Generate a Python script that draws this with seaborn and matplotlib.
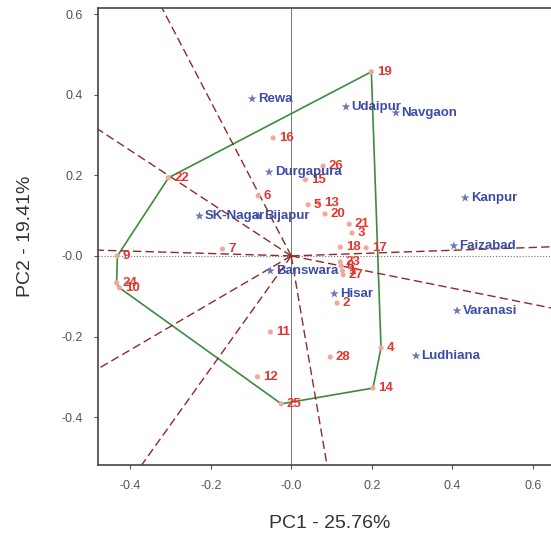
import numpy as np
import pandas as pd
import seaborn as sns
import matplotlib.pyplot as plt

# genotype scores (PC1, PC2)
gen_labels = ['1', '2', '3', '4', '5', '6', '7', '8', '9', '10', '11', '12', '13', '14',
              '15', '16', '17', '18', '19', '20', '21', '22', '23', '24', '25', '26', '27', '28']
gen_pc1 = [0.127, 0.114, 0.151, 0.223, 0.042, -0.082, -0.171, 0.124, -0.432, -0.427, -0.052, -0.084, 0.067, 0.203,
           0.035, -0.045, 0.186, 0.122, 0.199, 0.084, 0.144, -0.305, 0.122, -0.434, -0.025, 0.079, 0.129, 0.097]
gen_pc2 = [-0.037, -0.117, 0.057, -0.228, 0.127, 0.149, 0.017, -0.025, 0.0, -0.079, -0.189, -0.300, 0.132, -0.328,
           0.189, 0.293, 0.020, 0.022, 0.457, 0.104, 0.079, 0.194, -0.015, -0.067, -0.367, 0.223, -0.047, -0.251]

# environment scores
env_labels = ['Rewa', 'Udaipur', 'Navgaon', 'Durgapura', 'SK-Nagar', 'Bijapur',
              'Kanpur', 'Faizabad', 'Banswara', 'Hisar', 'Varanasi', 'Ludhiana']
env_pc1 = [-0.097, 0.136, 0.26, -0.055, -0.228, -0.082, 0.432, 0.404, -0.052, 0.107, 0.412, 0.31]
env_pc2 = [0.39, 0.37, 0.355, 0.208, 0.099, 0.099, 0.144, 0.025, -0.037, -0.094, -0.136, -0.248]

# polygon vertex genotypes (convex hull order)
hull = ['19', '22', '9', '24', '10', '25', '14', '4']

gen = pd.DataFrame({'label': gen_labels, 'PC1': gen_pc1, 'PC2': gen_pc2})
env = pd.DataFrame({'label': env_labels, 'PC1': env_pc1, 'PC2': env_pc2})

sns.set_style('white')
plt.rcParams['font.family'] = ['Liberation Sans', 'DejaVu Sans']

fig = plt.figure(figsize=(5.51, 5.42), dpi=100)
ax = fig.add_axes([0.178, 0.142, 0.84, 0.843])

red = '#e2372f'
blue = '#3c4ca6'

# zero lines
ax.axhline(0, color='#777777', lw=0.8, ls=':', zorder=1)
ax.axvline(0, color='#777777', lw=0.7, zorder=1)

# polygon
hp = gen.set_index('label').loc[hull]
px = list(hp.PC1) + [hp.PC1.iloc[0]]
py = list(hp.PC2) + [hp.PC2.iloc[0]]
ax.plot(px, py, color='#3f8a3f', lw=1.2, zorder=2)

# rays perpendicular to polygon sides
for i in range(len(hull)):
    a = hp.iloc[i][['PC1', 'PC2']].to_numpy(dtype=float)
    b = hp.iloc[(i + 1) % len(hull)][['PC1', 'PC2']].to_numpy(dtype=float)
    d = b - a
    t = -np.dot(a, d) / np.dot(d, d)
    f = a + t * d
    f = f / np.linalg.norm(f) * 3
    ax.plot([0, f[0]], [0, f[1]], color='#8e2a2a', lw=1.0, ls=(0, (6, 3)), zorder=2)

sns.scatterplot(data=gen, x='PC1', y='PC2', ax=ax, color='#f2a7a0', s=14,
                edgecolor='none', zorder=3, legend=False)
sns.scatterplot(data=env, x='PC1', y='PC2', ax=ax, color='#6a78b8', marker='*',
                s=45, edgecolor='none', zorder=3, legend=False)

for _, r in gen.iterrows():
    ax.annotate(r.label, (r.PC1, r.PC2), xytext=(4, 0), textcoords='offset points',
                va='center', ha='left', color=red, fontsize=9.5, fontweight='bold', zorder=4)
for _, r in env.iterrows():
    ax.annotate(r.label, (r.PC1, r.PC2), xytext=(4, 0), textcoords='offset points',
                va='center', ha='left', color=blue, fontsize=9.5, fontweight='bold', zorder=4)

ax.set_xlim(-0.48, 0.67)
ax.set_ylim(-0.519, 0.615)

xt = [-0.4, -0.2, 0.0, 0.2, 0.4, 0.6]
yt = [-0.4, -0.2, 0.0, 0.2, 0.4, 0.6]
ax.set_xticks(xt)
ax.set_xticklabels(['-0.4', '-0.2', '-0.0', '0.2', '0.4', '0.6'])
ax.set_yticks(yt)
ax.set_yticklabels(['-0.4', '-0.2', '-0.0', '0.2', '0.4', '0.6'])
ax.tick_params(axis='both', colors='#555555', labelsize=9, length=3, direction='out',
               left=True, bottom=True, pad=8)

for s in ['top', 'left', 'bottom', 'right']:
    ax.spines[s].set_color('#444444')
    ax.spines[s].set_linewidth(1.2)

ax.set_xlabel('PC1 - 25.76%', fontsize=14, color='#333333', labelpad=16)
ax.set_ylabel('PC2 - 19.41%', fontsize=14, color='#333333', labelpad=20)

fig.savefig('out.png', dpi=100)
